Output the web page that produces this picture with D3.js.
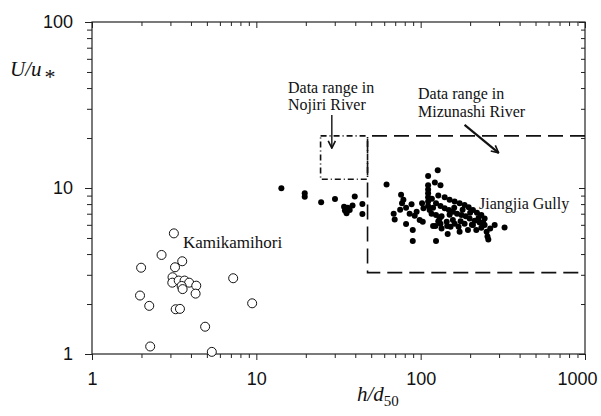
<!DOCTYPE html>
<html>
<head>
<meta charset="utf-8">
<script src="https://cdn.jsdelivr.net/npm/d3@7"></script>
<style>
  body { margin: 0; background: #fff; }
  svg { display: block; }
</style>
</head>
<body>
<div id="chart"></div>
<script>
// axis ticks
var xMajorTicks = [1, 10, 100, 1000];
var xTickLabels = ["1", "10", "100", "1000"];
var yMajorTicks = [1, 10, 100];
var yTickLabels = ["1", "10", "100"];

// Kamikamihori (open circles)
var kamiH = [3.15, 2.65, 1.99, 3.20, 3.54, 3.09, 3.08, 3.37, 3.66, 3.90, 3.51, 3.56, 4.31, 4.27, 7.23, 1.96, 2.23, 3.23, 3.43, 9.43, 4.88, 2.26, 5.36];
var kamiU = [5.33, 3.95, 3.31, 3.33, 3.62, 2.90, 2.69, 2.77, 2.77, 2.69, 2.57, 2.46, 2.58, 2.31, 2.86, 2.25, 1.95, 1.86, 1.87, 2.02, 1.46, 1.11, 1.03];

// solid dots between 10 and 50
var midH = [14.2, 19.7, 19.7, 24.8, 30.1, 39.7, 34.2, 35.4, 34.6, 37.0, 38.5, 44.2, 44.2, 36.0];
var midU = [9.96, 9.29, 8.86, 8.2, 8.58, 8.89, 7.72, 7.04, 7.32, 7.37, 7.85, 8.01, 6.97, 7.6];

// Jiangjia Gully (solid dots)
var jiangH = [127, 111, 62, 111, 111, 111, 111, 111, 111, 122, 132,
  76, 78.5, 77, 81.5, 88, 102, 104, 94.5, 85.7, 68.5, 69.5, 81.5, 89.5, 89.5, 124, 98.6, 103, 119, 123, 130.5, 132, 134, 146, 152, 161, 170, 172.6, 194, 252, 255, 258, 282, 324,
  124, 132, 140, 148.5, 157, 166.5, 177, 188, 198.6, 213, 228.5, 245,
  140, 150, 161, 172.6, 185, 196, 208, 220, 234, 245,
  144, 157, 185, 208, 218, 234, 113.4, 116.5, 124, 134,
  117, 128, 119, 160, 180, 200, 225, 150, 175, 205, 240, 265, 145, 128, 92, 75];
var jiangU = [12.8, 11.8, 10.5, 10.4, 9.8, 9.3, 8.8, 8.3, 7.8, 10.8, 10.4,
  9.1, 8.5, 8.1, 7.6, 7.97, 8.1, 7.55, 7.2, 7.0, 7.0, 6.47, 6.06, 5.59, 4.8, 4.8, 6.42, 6.27, 5.9, 5.9, 6.55, 6.1, 5.7, 5.28, 5.85, 6.1, 5.85, 5.45, 5.59, 5.45, 5.1, 4.9, 5.99, 5.78,
  8.1, 7.8, 7.55, 7.37, 7.2, 7.0, 6.88, 6.75, 6.55, 6.35, 6.2, 5.99,
  8.8, 8.5, 8.3, 8.1, 7.9, 7.65, 7.37, 7.1, 6.88, 6.55,
  6.27, 6.42, 6.1, 5.99, 5.59, 5.77, 7.37, 7.0, 6.88, 6.75,
  8.6, 9.0, 7.6, 7.6, 7.4, 7.1, 6.6, 6.9, 6.3, 6.0, 6.2, 5.7, 5.9, 6.3, 6.8, 7.4];

// data range boxes [hMin, hMax, uMin, uMax]
var nojiriRange = [24.6, 47.5, 11.3, 20.6];
var mizunashiRange = [47.5, 1000, 3.09, 20.6];

var width = 601, height = 416;
var margin = {top: 22, right: 16, bottom: 62, left: 92};

var svg = d3.select("#chart")
  .append("svg")
    .attr("width", width)
    .attr("height", height);

var x = d3.scaleLog().domain([1, 1000]).range([margin.left, width - margin.right]);
var y = d3.scaleLog().domain([1, 100]).range([height - margin.bottom, margin.top]);

var minorX = [], minorY = [];
[1, 10, 100].forEach(function(d) {
  for (var k = 2; k <= 9; k++) minorX.push(d * k);
});
[1, 10].forEach(function(d) {
  for (var k = 2; k <= 9; k++) minorY.push(d * k);
});

var axisColor = "#222";
var x0 = x(1), x1 = x(1000), y0 = y(1), y1 = y(100);

function styleAxis(g) {
  g.select(".domain").remove();
  g.selectAll("line").attr("stroke", axisColor).attr("stroke-width", 1);
}

// bottom axis (ticks outward)
svg.append("g").attr("transform", "translate(0," + y0 + ")")
  .call(d3.axisBottom(x).tickValues(minorX).tickSize(4).tickFormat(""))
  .call(styleAxis);
svg.append("g").attr("transform", "translate(0," + y0 + ")")
  .call(d3.axisBottom(x).tickValues(xMajorTicks).tickSize(6).tickPadding(12)
    .tickFormat(function(d, i) { return xTickLabels[i]; }))
  .call(styleAxis)
  .selectAll("text")
    .attr("fill", "#111")
    .attr("dx", function(d) { return d === 1000 ? -8 : 0; })
    .style("font", "18px 'Liberation Sans', Arial, sans-serif");

// top axis (ticks inward)
svg.append("g").attr("transform", "translate(0," + y1 + ")")
  .call(d3.axisBottom(x).tickValues(minorX).tickSize(4).tickFormat(""))
  .call(styleAxis);
svg.append("g").attr("transform", "translate(0," + y1 + ")")
  .call(d3.axisBottom(x).tickValues(xMajorTicks).tickSize(6).tickFormat(""))
  .call(styleAxis);

// left axis (ticks outward)
svg.append("g").attr("transform", "translate(" + x0 + ",0)")
  .call(d3.axisLeft(y).tickValues(minorY).tickSize(5).tickFormat(""))
  .call(styleAxis);
svg.append("g").attr("transform", "translate(" + x0 + ",0)")
  .call(d3.axisLeft(y).tickValues(yMajorTicks).tickSize(7).tickPadding(12)
    .tickFormat(function(d, i) { return yTickLabels[i]; }))
  .call(styleAxis)
  .selectAll("text")
    .attr("fill", "#111")
    .style("font", "18px 'Liberation Sans', Arial, sans-serif");

// right axis (ticks inward)
svg.append("g").attr("transform", "translate(" + x1 + ",0)")
  .call(d3.axisLeft(y).tickValues(minorY).tickSize(4).tickFormat(""))
  .call(styleAxis);
svg.append("g").attr("transform", "translate(" + x1 + ",0)")
  .call(d3.axisLeft(y).tickValues(yMajorTicks).tickSize(6).tickFormat(""))
  .call(styleAxis);

// frame
svg.append("rect")
  .attr("x", x0).attr("y", y1)
  .attr("width", x1 - x0).attr("height", y0 - y1)
  .attr("fill", "none")
  .attr("stroke", axisColor)
  .attr("stroke-width", 1.2);

// data range boxes
var nj = nojiriRange;
svg.append("path")
  .attr("d", "M" + x(nj[0]) + "," + y(nj[3]) + "H" + x(nj[1]) + "V" + y(nj[2]) + "H" + x(nj[0]) + "Z")
  .attr("fill", "none")
  .attr("stroke", "#111")
  .attr("stroke-width", 1.6)
  .attr("stroke-dasharray", "6,3,1,3");

var mz = mizunashiRange;
svg.append("path")
  .attr("d", "M" + x(mz[1]) + "," + y(mz[3]) + "H" + x(mz[0]) + "V" + y(mz[2]) + "H" + x(mz[1]))
  .attr("fill", "none")
  .attr("stroke", "#111")
  .attr("stroke-width", 1.6)
  .attr("stroke-dasharray", "15,7");

// arrow heads
var defs = svg.append("defs");
defs.append("marker")
  .attr("id", "head")
  .attr("viewBox", "0 0 10 10")
  .attr("refX", 9).attr("refY", 5)
  .attr("markerWidth", 9).attr("markerHeight", 9)
  .attr("markerUnits", "userSpaceOnUse")
  .attr("orient", "auto")
  .append("path")
    .attr("d", "M1,1 L9,5 L1,9")
    .attr("fill", "none")
    .attr("stroke", "#111")
    .attr("stroke-width", 1.8);

// Nojiri arrow
svg.append("line")
  .attr("x1", x(28.8)).attr("y1", y(27.5))
  .attr("x2", x(28.8)).attr("y2", y(17.4))
  .attr("stroke", "#111").attr("stroke-width", 1.4)
  .attr("marker-end", "url(#head)");

// Mizunashi arrow
svg.append("line")
  .attr("x1", x(185)).attr("y1", y(24.0))
  .attr("x2", x(298)).attr("y2", y(16.3))
  .attr("stroke", "#111").attr("stroke-width", 2.2)
  .attr("marker-end", "url(#head)");

// open circles
svg.append("g").selectAll("circle")
  .data(d3.zip(kamiH, kamiU))
  .join("circle")
    .attr("cx", function(d) { return x(d[0]); })
    .attr("cy", function(d) { return y(d[1]); })
    .attr("r", 4.5)
    .attr("fill", "#fff")
    .attr("stroke", "#111")
    .attr("stroke-width", 1);

// solid dots
svg.append("g").selectAll("circle")
  .data(d3.zip(midH.concat(jiangH), midU.concat(jiangU)))
  .join("circle")
    .attr("cx", function(d) { return x(d[0]); })
    .attr("cy", function(d) { return y(d[1]); })
    .attr("r", 3)
    .attr("fill", "#000");

// annotations
var serif = "'Liberation Serif', 'Times New Roman', serif";
function label(tx, ty, str, size) {
  svg.append("text")
    .attr("x", tx).attr("y", ty)
    .attr("fill", "#111")
    .style("font", size + "px " + serif)
    .text(str);
}
label(288, 93, "Data range in", 16);
label(288, 110, "Nojiri River", 16);
label(418, 99, "Data range in", 16);
label(418, 117, "Mizunashi River", 16);
label(183, 248, "Kamikamihori", 17);
label(479, 209, "Jiangjia Gully", 16);

// axis titles
var yt = svg.append("text")
  .attr("x", 10).attr("y", 76)
  .attr("fill", "#111")
  .style("font", "italic 21px " + serif);
yt.append("tspan").text("U/u");
yt.append("tspan").attr("dx", 3).attr("dy", 8).style("font-size", "22px").style("font-style", "normal").text("*");

var xt = svg.append("text")
  .attr("x", 357).attr("y", 401)
  .attr("fill", "#111")
  .style("font", "italic 21px " + serif);
xt.append("tspan").text("h/d");
xt.append("tspan").attr("dy", 5).style("font-size", "15px").style("font-style", "normal").text("50");
</script>
</body>
</html>
